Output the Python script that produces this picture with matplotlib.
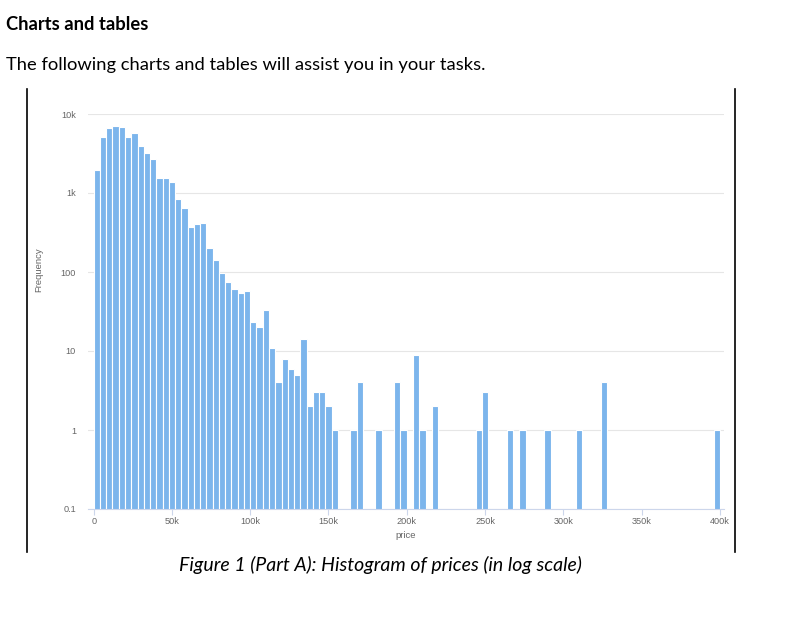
import matplotlib
matplotlib.use("Agg")
import matplotlib.pyplot as plt
from matplotlib.lines import Line2D

# histogram data: bins of 4k starting at 0 (counts)
bin_width = 4000
bin_counts = [
    1950, 5070, 6590, 7050, 6790, 5070, 5700, 3970, 3180, 2690,
    1535, 1560, 1390, 832, 640, 368, 402, 417, 201, 141,
    96, 75, 61, 54, 58, 23, 20, 33, 11, 4,
    8, 6, 5, 14, 2, 3, 3, 2, 1, 0,
    0, 1, 4, 0, 0, 1, 0, 0, 4, 1,
    0, 9, 1, 0, 2, 0, 0, 0, 0, 0,
    0, 1, 3, 0, 0, 0, 1, 0, 1, 0,
    0, 0, 1, 0, 0, 0, 0, 1, 0, 0,
    0, 4, 0, 0, 0, 0, 0, 0, 0, 0,
    0, 0, 0, 0, 0, 0, 0, 0, 0, 1,
]
x_ticks = [0, 50000, 100000, 150000, 200000, 250000, 300000, 350000, 400000]
x_tick_labels = ["0", "50k", "100k", "150k", "200k", "250k", "300k", "350k", "400k"]
y_ticks = [0.1, 1, 10, 100, 1000, 10000]
y_tick_labels = ["0.1", "1", "10", "100", "1k", "10k"]

heading = "Charts and tables"
intro = "The following charts and tables will assist you in your tasks."
caption = "Figure 1 (Part A): Histogram of prices (in log scale)"

BAR = "#7cb5ec"
GRID = "#e6e6e6"
AXIS = "#ccd6eb"
LABEL = "#666666"

fig = plt.figure(figsize=(8.01, 6.32), dpi=100)
W, H = 801, 632

# plot area in pixels: x 87.7..724.3, y 114..509
ax = fig.add_axes([87.7 / W, 1 - 509 / H, (724.3 - 87.7) / W, (509 - 114) / H])

lefts = [i * bin_width for i, c in enumerate(bin_counts) if c > 0]
heights = [c for c in bin_counts if c > 0]
ax.bar(lefts, heights, width=bin_width, align="edge", color=BAR,
       edgecolor="white", linewidth=0.8, zorder=3)

ax.set_yscale("log")
ax.set_ylim(0.1, 10000)
ax.set_xlim(-3834, 402900)

ax.set_yticks(y_ticks)
ax.set_yticklabels(y_tick_labels)
ax.minorticks_off()
ax.set_xticks(x_ticks)
ax.set_xticklabels(x_tick_labels)

ax.tick_params(axis="y", length=0, pad=8.4, labelsize=6.6, labelcolor=LABEL)
ax.tick_params(axis="x", length=4.5, width=0.8, color=AXIS, pad=1.5,
               labelsize=6.6, labelcolor=LABEL)
for t in ax.get_xticklabels() + ax.get_yticklabels():
    t.set_fontfamily("Liberation Sans")

ax.grid(axis="y", color=GRID, linewidth=0.8, zorder=0)
for s in ["top", "right", "left"]:
    ax.spines[s].set_visible(False)
ax.spines["bottom"].set_color(AXIS)
ax.spines["bottom"].set_linewidth(0.8)
ax.spines["bottom"].set_zorder(4)

ax.set_xlabel("price", fontsize=6.8, color=LABEL, family="Liberation Sans", labelpad=3)
ax.set_ylabel("Frequency", fontsize=6.8, color=LABEL, family="Liberation Sans")
ax.yaxis.set_label_coords((43 - 87.7) / (724.3 - 87.7), (509 - 270) / 395)

# document framing
fig.text(6 / W, 1 - 30 / H, heading, fontsize=13.2, fontweight="bold",
         family="Lato", va="baseline", ha="left")
fig.text(6 / W, 1 - 70 / H, intro, fontsize=13.2, family="Lato",
         va="baseline", ha="left")
fig.text(380.5 / W, 1 - 571 / H, caption, fontsize=14, style="italic",
         family="Lato", va="baseline", ha="center")

for xp in (26.7, 735.3):
    fig.add_artist(Line2D([xp / W, xp / W], [1 - 89 / H, 1 - 551.7 / H],
                          color="black", linewidth=1.2))

fig.savefig("out.png", dpi=100)
